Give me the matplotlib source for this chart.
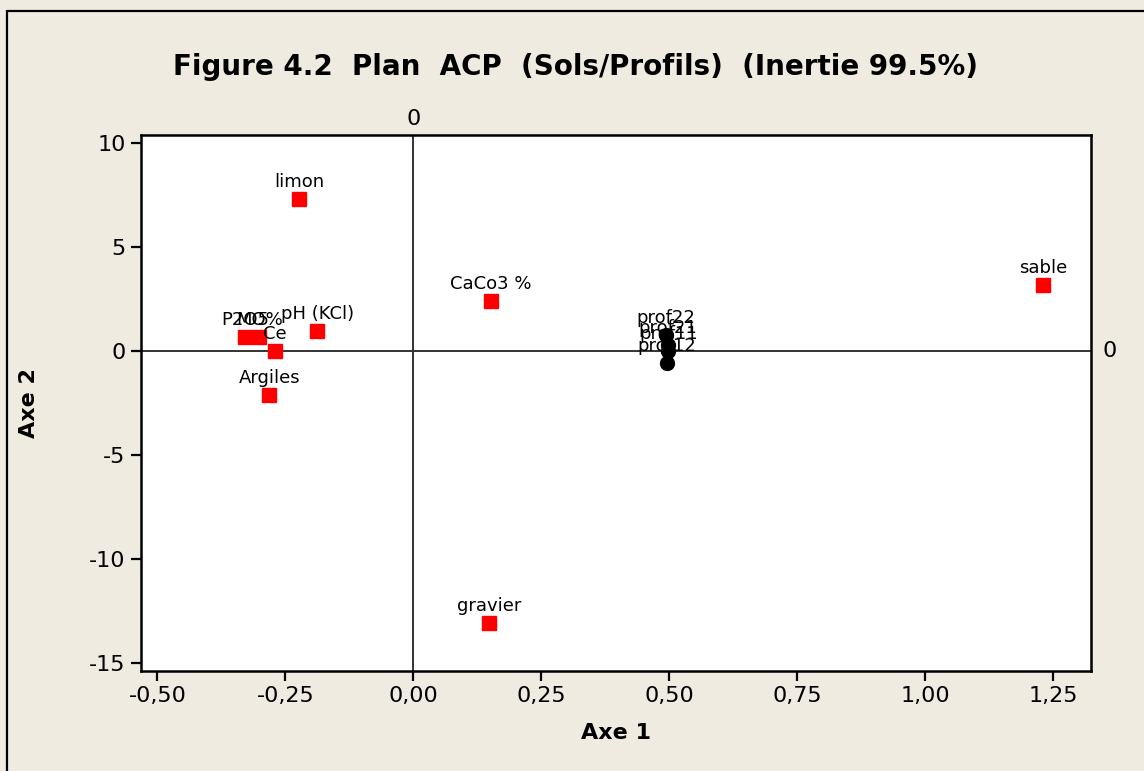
import matplotlib
matplotlib.use("Agg")
import matplotlib.pyplot as plt
from matplotlib.patches import Rectangle

# Variables (red squares)
var_names = ["limon", "sable", "CaCo3 %", "pH (KCl)", "P2O5", "MO%", "Ce", "Argiles", "gravier"]
var_x = [-0.223, 1.230, 0.152, -0.1875, -0.328, -0.301, -0.270, -0.281, 0.148]
var_y = [7.32, 3.19, 2.42, 0.98, 0.69, 0.69, 0.0, -2.10, -13.06]

# Profiles (black circles)
prof_names = ["prof22", "prof21", "prof11", "prof12"]
prof_x = [0.494, 0.497, 0.498, 0.496]
prof_y = [0.80, 0.30, 0.0, -0.55]

xticks = [-0.50, -0.25, 0.00, 0.25, 0.50, 0.75, 1.00, 1.25]
xtick_labels = ["-0,50", "-0,25", "0,00", "0,25", "0,50", "0,75", "1,00", "1,25"]
yticks = [10, 5, 0, -5, -10, -15]

bg = "#efebe1"
fig = plt.figure(figsize=(11.44, 7.71), dpi=100, facecolor=bg)
ax = fig.add_axes([141 / 1144, 1 - 671 / 771, 950 / 1144, 536 / 771])
ax.set_facecolor("white")

# figure frame (left and top edges visible)
fig.patches.append(Rectangle((7 / 1144, -0.1), 1.2, (771 - 11) / 771 + 0.1,
                             transform=fig.transFigure, fill=False,
                             edgecolor="black", linewidth=1.6, zorder=0))

ax.set_xlim(-0.532, 1.324)
ax.set_ylim(-15.38, 10.4)

ax.axvline(0, color="#333333", linewidth=1.4, zorder=1)
ax.axhline(0, color="#333333", linewidth=1.4, zorder=1)

ax.plot(var_x, var_y, "s", color="red", markersize=10, zorder=3)
ax.plot(prof_x, prof_y, "o", color="black", markersize=10, zorder=3)

for name, x, y in zip(var_names + prof_names, var_x + prof_x, var_y + prof_y):
    ax.annotate(name, (x, y), xytext=(0, 8.5), textcoords="offset points",
                ha="center", va="baseline", fontsize=13, zorder=4)

ax.set_xticks(xticks, xtick_labels, fontsize=16)
ax.set_yticks(yticks, [str(t) for t in yticks], fontsize=16)
ax.tick_params(direction="out", length=7, width=1.6, pad=4)
for s in ax.spines.values():
    s.set_linewidth(1.8)

# reference-line labels
ax.text(0, 1.012, "0", transform=ax.get_xaxis_transform(), ha="center",
        va="bottom", fontsize=16)
ax.text(1.012, 0, "0", transform=ax.get_yaxis_transform(), ha="left",
        va="center", fontsize=16)

ax.set_xlabel("Axe 1", fontsize=16, fontweight="bold", labelpad=12)
ax.set_ylabel("Axe 2", fontsize=16, fontweight="bold", labelpad=36)

fig.text(0.503, 1 - 67 / 771, "Figure 4.2  Plan  ACP  (Sols/Profils)  (Inertie 99.5%)",
         ha="center", va="center", fontsize=20, fontweight="bold")

fig.savefig("out.png", dpi=100, facecolor=bg)
